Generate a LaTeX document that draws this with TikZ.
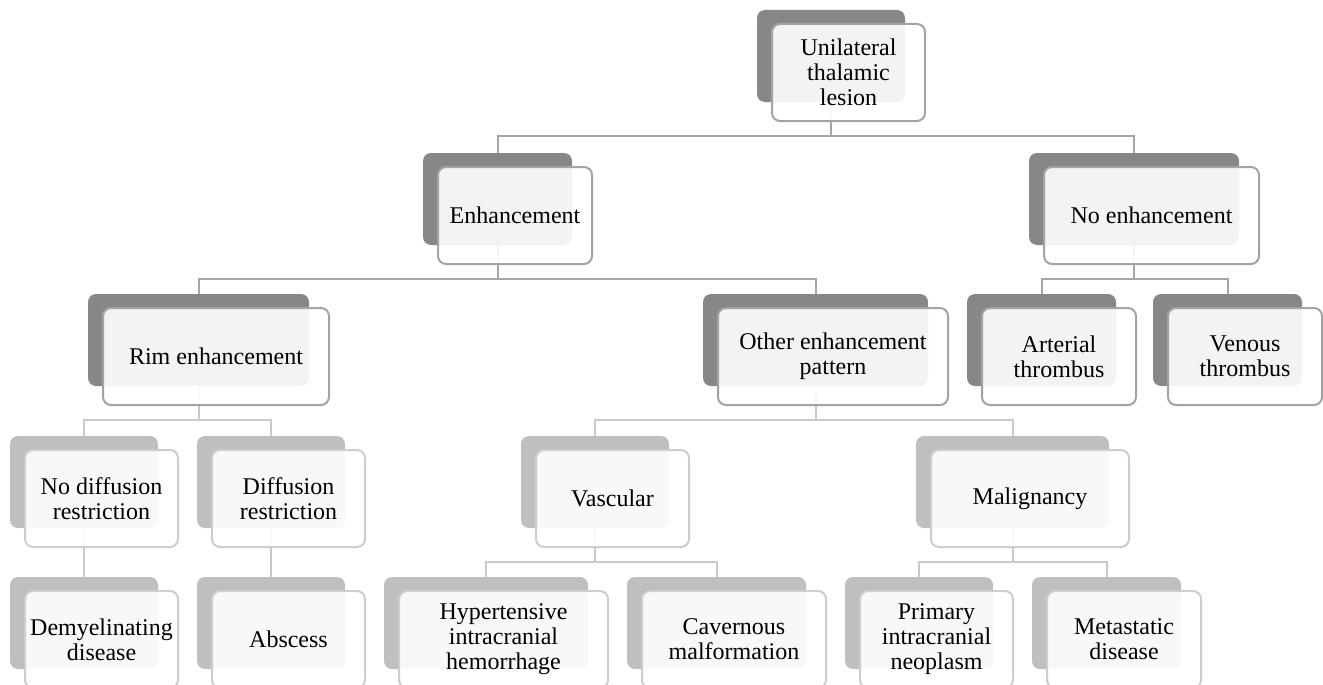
\documentclass[tikz,border=0pt]{standalone}
\usepackage{fontspec}
\setmainfont{Liberation Serif}
\usetikzlibrary{positioning,backgrounds}
\definecolor{dkback}{HTML}{878787}
\definecolor{ltback}{HTML}{BFBFBF}
\definecolor{dkedge}{HTML}{A3A3A3}
\definecolor{ltedge}{HTML}{CDCDCD}
\definecolor{dkconn}{HTML}{A6A6A6}
\definecolor{ltconn}{HTML}{CACACA}

\begin{document}
\begin{tikzpicture}
    [x=1pt,y=-1pt,
     every node/.style={rounded corners=8pt, inner sep=0pt, outer sep=0pt},
     back/.style={anchor=north west, minimum height=92pt, fill=dkback},
     backlt/.style={back, fill=ltback},
     front/.style={draw=dkedge, line width=2pt, fill=white, fill opacity=0.9, text opacity=1,
       align=center, minimum height=97pt, font=\fontsize{24}{25}\selectfont},
     frontlt/.style={front, draw=ltedge},
     link/.style={draw=dkconn, line width=2pt},
     linklt/.style={link, draw=ltconn}]
    \useasboundingbox (0,0) rectangle (1323,685);

    % upper levels
    \foreach \n/\x/\y/\w/\t in {top/757/10/148/{Unilateral\\thalamic\\lesion},
      enh/423/153/149/{Enhancement}, noenh/1029/153/210/{No enhancement},
      rim/88/294/221/{Rim enhancement}, other/703/294/225/{Other enhancement\\pattern},
      art/967/294/149/{Arterial\\thrombus}, ven/1153/294/149/{Venous\\thrombus}}
    {
      \node[back, minimum width=\w pt] (\n) at (\x,\y) {};
      \node[front, minimum width=\w*1pt+5pt, below right=14pt and 15pt of \n.north west] (\n-t) {\t};
    }

    % lower levels
    \foreach \n/\x/\y/\w/\t in {nodiff/10/436/148/{No diffusion\\restriction},
      diff/197/436/148/{Diffusion\\restriction}, vasc/521/436/148/{Vascular},
      malig/916/436/193/{Malignancy},
      demy/10/577/148/{Demyelinating\\disease}, absc/197/577/148/{Abscess},
      hyp/384/577/204/{Hypertensive\\intracranial\\hemorrhage},
      cav/627/577/179/{Cavernous\\malformation},
      prim/845/577/148/{Primary\\intracranial\\neoplasm},
      meta/1032/577/149/{Metastatic\\disease}}
    {
      \node[backlt, minimum width=\w pt] (\n) at (\x,\y) {};
      \node[frontlt, minimum width=\w*1pt+5pt, below right=14pt and 15pt of \n.north west] (\n-t) {\t};
    }

    \begin{scope}[on background layer]
      \foreach \from/\to in {top/enh, top/noenh, enh/rim, enh/other, noenh/art, noenh/ven}
        \draw[link] (\from.south) -- ++(0,34) -| (\to.north);
      \foreach \from/\to in {rim/nodiff, rim/diff, other/vasc, other/malig,
        nodiff/demy, diff/absc, vasc/hyp, vasc/cav, malig/prim, malig/meta}
        \draw[linklt] (\from.south) -- ++(0,34) -| (\to.north);
    \end{scope}
\end{tikzpicture}
\end{document}
